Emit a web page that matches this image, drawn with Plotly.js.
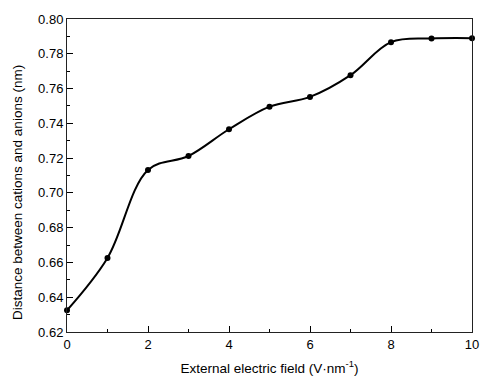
<!DOCTYPE html>
<html>
<head>
<meta charset="utf-8">
<script src="https://cdn.plot.ly/plotly-3.0.1.min.js"></script>
<style>html,body{margin:0;padding:0;background:#fff;}#chart{width:482px;height:378px;}</style>
</head>
<body>
<div id="chart"></div>
<script>
const fieldValues = [0, 1, 2, 3, 4, 5, 6, 7, 8, 9, 10];
const distances = [0.6325, 0.6626, 0.7132, 0.7212, 0.7366, 0.7496, 0.7552, 0.7677, 0.7867, 0.7888, 0.7890];
const xTitle = 'External electric field (V·nm<sup>-1</sup>)';
const yTitle = 'Distance between cations and anions (nm)';

const trace = {
  x: fieldValues,
  y: distances,
  mode: 'lines+markers',
  line: {shape: 'spline', smoothing: 1, color: '#000', width: 2},
  marker: {symbol: 'circle', size: 6, color: '#000'},
  cliponaxis: false,
  hoverinfo: 'skip'
};

const tickFont = {family: 'Liberation Sans, Arial, sans-serif', size: 13, color: '#000'};
const titleFont = {family: 'Liberation Sans, Arial, sans-serif', size: 13.5, color: '#000'};
const W = 482, H = 378;
const layout = {
  width: W, height: H,
  margin: {l: 67, r: 10, t: 19, b: 46},
  paper_bgcolor: '#fff', plot_bgcolor: '#fff',
  showlegend: false,
  font: tickFont,
  xaxis: {
    range: [0, 10], dtick: 2, tick0: 0,
    ticks: 'inside', ticklen: 6, tickwidth: 1, tickcolor: '#000',
    minor: {dtick: 1, ticks: 'inside', ticklen: 3, tickcolor: '#000', showgrid: false},
    showline: true, linecolor: '#222', linewidth: 1, mirror: true,
    showgrid: false, zeroline: false,
    tickfont: tickFont,
    title: {text: xTitle, font: titleFont, standoff: 12}
  },
  yaxis: {
    range: [0.62, 0.80], dtick: 0.02, tick0: 0.62,
    tickformat: '.2f',
    ticks: 'inside', ticklen: 6, tickwidth: 1, tickcolor: '#000',
    minor: {dtick: 0.01, ticks: 'inside', ticklen: 3, tickcolor: '#000', showgrid: false},
    showline: true, linecolor: '#222', linewidth: 1, mirror: true,
    showgrid: false, zeroline: false,
    tickfont: tickFont
  },
  annotations: [{
    text: yTitle, textangle: -90, showarrow: false,
    xref: 'paper', yref: 'paper',
    x: (17 - 67) / (W - 67 - 10), y: (H - 46 - 193) / (H - 19 - 46),
    xanchor: 'center', yanchor: 'middle',
    font: titleFont
  }]
};

Plotly.newPlot('chart', [trace], layout, {staticPlot: true, displayModeBar: false});
</script>
</body>
</html>
